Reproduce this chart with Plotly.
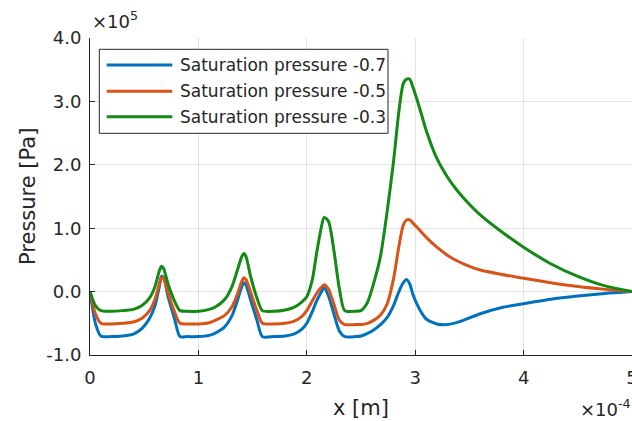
import plotly.graph_objects as go

# ---- data (x in units of 1e-4 m, pressure in units of 1e5 Pa) ----
x_e4 = [0, 0.05, 0.1, 0.2, 0.3, 0.4, 0.48, 0.55, 0.6, 0.64, 0.66, 0.68, 0.72, 0.78, 0.83,
        0.9, 1.0, 1.1, 1.16, 1.24, 1.31, 1.36, 1.40, 1.42, 1.44, 1.48, 1.54, 1.59,
        1.7, 1.8, 1.88, 1.95, 2.0, 2.05, 2.09, 2.13, 2.16, 2.20, 2.25, 2.30, 2.35,
        2.45, 2.5, 2.56, 2.62, 2.68, 2.74, 2.8, 2.85, 2.89, 2.92, 2.95, 2.98, 3.04, 3.1,
        3.2, 3.3, 3.38, 3.45, 3.6, 3.8, 4.0, 4.25, 4.5, 4.75, 5.0]

p_sat_07 = [0, -0.5, -0.70, -0.71, -0.70, -0.67, -0.58, -0.42, -0.22, 0.08, 0.24, 0.22, -0.08, -0.43, -0.71,
            -0.71, -0.71, -0.69, -0.65, -0.56, -0.38, -0.14, 0.08, 0.14, 0.10, -0.12, -0.45, -0.71,
            -0.71, -0.70, -0.67, -0.60, -0.50, -0.32, -0.15, -0.02, 0.06, -0.07, -0.35, -0.62, -0.71,
            -0.71, -0.70, -0.66, -0.60, -0.52, -0.41, -0.22, 0.0, 0.14, 0.19, 0.12, -0.05, -0.28, -0.43,
            -0.51, -0.52, -0.49, -0.45, -0.35, -0.25, -0.19, -0.12, -0.07, -0.03, 0.0]

p_sat_05 = [0, -0.35, -0.50, -0.51, -0.50, -0.48, -0.42, -0.30, -0.12, 0.12, 0.22, 0.20, -0.02, -0.32, -0.50,
            -0.51, -0.51, -0.49, -0.45, -0.38, -0.24, -0.04, 0.16, 0.22, 0.19, 0.0, -0.30, -0.50,
            -0.51, -0.50, -0.47, -0.40, -0.30, -0.15, -0.03, 0.06, 0.11, 0.04, -0.20, -0.45, -0.52,
            -0.52, -0.52, -0.50, -0.45, -0.37, -0.20, 0.20, 0.72, 1.05, 1.13, 1.13, 1.08, 0.97, 0.86,
            0.70, 0.57, 0.49, 0.435, 0.34, 0.27, 0.21, 0.14, 0.08, 0.035, 0.0]

p_sat_03 = [0, -0.22, -0.30, -0.31, -0.30, -0.28, -0.22, -0.10, 0.08, 0.33, 0.40, 0.36, 0.12, -0.15, -0.30,
            -0.31, -0.31, -0.28, -0.24, -0.13, 0.08, 0.34, 0.55, 0.60, 0.55, 0.25, -0.10, -0.30,
            -0.31, -0.29, -0.25, -0.17, -0.08, 0.18, 0.60, 0.98, 1.17, 1.11, 0.65, 0.05, -0.30,
            -0.31, -0.30, -0.17, 0.15, 0.56, 1.25, 2.05, 2.85, 3.28, 3.35, 3.35, 3.22, 2.90, 2.55,
            2.10, 1.80, 1.61, 1.47, 1.21, 0.94, 0.70, 0.44, 0.24, 0.09, 0.0]

series_names = ["Saturation pressure -0.7", "Saturation pressure -0.5", "Saturation pressure -0.3"]
series_colors = ["#0072BD", "#D95319", "#138A13"]

x_tickvals = [0, 1, 2, 3, 4, 5]
x_ticktext = ["0", "1", "2", "3", "4", "5"]
y_tickvals = [-1, 0, 1, 2, 3, 4]
y_ticktext = ["-1.0", "0.0", "1.0", "2.0", "3.0", "4.0"]

# ---- layout geometry (pixels) ----
W, H = 632, 421
L, R, T, B = 90, 0, 38, 66
PW, PH = W - L - R, H - T - B


def px(x):
    return (x - L) / PW


def py(y):
    return (H - B - y) / PH


FONT = "DejaVu Sans"
TXT = "#262626"

fig = go.Figure()
for yv, name, col in zip([p_sat_07, p_sat_05, p_sat_03], series_names, series_colors):
    fig.add_trace(go.Scatter(x=x_e4, y=yv, mode="lines", name=name,
                             line=dict(color=col, width=3, shape="spline", smoothing=0.7),
                             showlegend=False))

axis_common = dict(showgrid=True, gridcolor="#E3E3E3", gridwidth=1, zeroline=False,
                   showline=True, linecolor=TXT, linewidth=1, ticks="inside", ticklen=5,
                   tickcolor=TXT, tickfont=dict(family=FONT, size=18, color=TXT),
                   ticklabeloverflow="allow", automargin=False)

fig.update_layout(
    width=W, height=H,
    margin=dict(l=L, r=R, t=T, b=B, pad=0, autoexpand=False),
    paper_bgcolor="white", plot_bgcolor="white",
    xaxis=dict(range=[0, 5], tickvals=x_tickvals, ticktext=x_ticktext,
               ticklabelstandoff=6, **axis_common),
    yaxis=dict(range=[-1, 4], tickvals=y_tickvals, ticktext=y_ticktext,
               ticklabelstandoff=4, **axis_common),
    font=dict(family=FONT, color=TXT),
)

# legend (custom, MATLAB-style)
fig.add_shape(type="rect", xref="paper", yref="paper",
              x0=px(99.3), x1=px(388), y0=py(133.3), y1=py(49.3),
              line=dict(color=TXT, width=1), fillcolor="white", layer="above")
rows = [65, 91.3, 116.7]
for rowy, name, col in zip(rows, series_names, series_colors):
    fig.add_shape(type="line", xref="paper", yref="paper",
                  x0=px(106.7), x1=px(172.3), y0=py(rowy), y1=py(rowy),
                  line=dict(color=col, width=3), layer="above")
    fig.add_annotation(xref="paper", yref="paper", x=px(178), y=py(rowy),
                       xanchor="left", yanchor="middle", showarrow=False,
                       text=name, font=dict(family=FONT, size=17, color=TXT))

# axis titles and exponent labels
fig.add_annotation(xref="paper", yref="paper", x=px(27.5), y=0.5, textangle=-90,
                   xanchor="center", yanchor="middle", showarrow=False,
                   text="Pressure [Pa]", font=dict(family=FONT, size=21, color=TXT))
fig.add_annotation(xref="paper", yref="paper", x=0.5, y=py(408),
                   xanchor="center", yanchor="middle", showarrow=False,
                   text="x [m]", font=dict(family=FONT, size=21, color=TXT))
fig.add_annotation(xref="paper", yref="paper", x=px(90), y=py(20),
                   xanchor="left", yanchor="middle", showarrow=False,
                   text="×10<sup>5</sup>", font=dict(family=FONT, size=18, color=TXT))
fig.add_annotation(xref="paper", yref="paper", x=px(633), y=py(408),
                   xanchor="right", yanchor="middle", showarrow=False,
                   text="×10<sup>-4</sup>", font=dict(family=FONT, size=18, color=TXT))

fig.write_html("out.html", config={"displayModeBar": False},
               post_script="document.body.style.margin='0';document.body.style.overflow='hidden';")
